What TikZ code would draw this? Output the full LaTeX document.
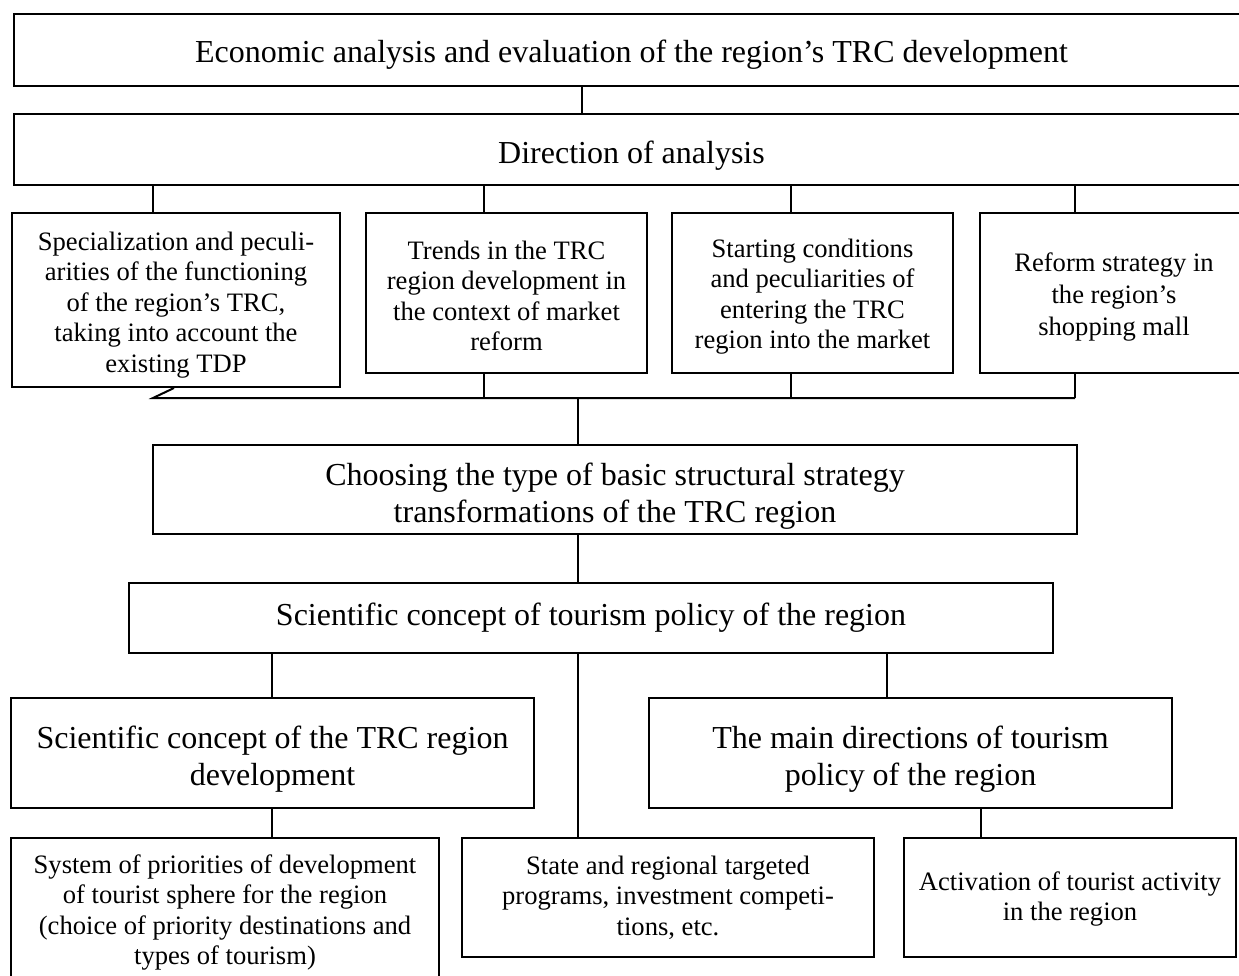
\documentclass[tikz,border=0pt]{standalone}
\usepackage{fontspec}
\setmainfont{Liberation Serif}
\newcommand\lowr[1]{\rule{0pt}{#1}}
\begin{document}
\begin{tikzpicture}[x=1pt,y=-1pt,
  box/.style={draw, line width=2pt, inner sep=0pt, align=center},
  big/.style={font=\fontsize{32}{37}\selectfont},
  small/.style={font=\fontsize{26.6}{30.5}\selectfont},
  conn/.style={line width=2pt}]
\useasboundingbox (0,0) rectangle (1239,976);

% nodes
\node[box,big,minimum width=1235pt,minimum height=72pt] (top) at (631.5,50) {\lowr{32pt}Economic analysis and evaluation of the region’s TRC development};
\node[box,big,minimum width=1235pt,minimum height=71pt] (dir) at (631.5,150) {\lowr{34pt}Direction of analysis};

\node[box,small,minimum width=328pt,minimum height=174pt] (b1) at (176,300) {\lowr{28pt}Specialization and peculi-\\arities of the functioning\\of the region’s TRC,\\taking into account the\\existing TDP};
\node[box,small,minimum width=281pt,minimum height=160pt] (b2) at (506.5,293) {\lowr{24pt}Trends in the TRC\\region development in\\the context of market\\reform};
\node[box,small,minimum width=281pt,minimum height=160pt] (b3) at (812.5,293) {\lowr{26pt}Starting conditions\\and peculiarities of\\entering the TRC\\region into the market};
\node[box,font=\fontsize{26.6}{32}\selectfont,minimum width=268pt,minimum height=160pt] (b4) at (1114,293) {\lowr{26pt}Reform strategy in\\the region’s\\shopping mall};

\node[box,big,minimum width=924pt,minimum height=89pt] (choose) at (615,489.5) {\lowr{36pt}Choosing the type of basic structural strategy\\transformations of the TRC region};
\node[box,big,minimum width=924pt,minimum height=70pt] (policy) at (591,618) {Scientific concept of tourism policy of the region};

\node[box,big,minimum width=523pt,minimum height=110pt] (ml) at (272.5,753) {\lowr{34pt}Scientific concept of the TRC region\\development};
\node[box,big,minimum width=523pt,minimum height=110pt] (mr) at (910.5,753) {\lowr{34pt}The main directions of tourism\\policy of the region};

\node[box,small,minimum width=428pt,minimum height=146pt] (bl) at (225,911) {\lowr{22pt}System of priorities of development\\of tourist sphere for the region\\(choice of priority destinations and\\types of tourism)};
\node[box,small,minimum width=412pt,minimum height=119pt] (bs) at (668,897.5) {State and regional targeted\\programs, investment competi-\\tions, etc.};
\node[box,small,minimum width=332pt,minimum height=119pt] (ba) at (1070,897.5) {\lowr{22pt}Activation of tourist activity\\in the region};

% helper coordinates (x positions of connectors)
\coordinate (xf) at (582,0);
\coordinate (xa) at (153,0);
\coordinate (xb) at (484,0);
\coordinate (xc) at (791,0);
\coordinate (xd) at (1075,0);
\coordinate (xj) at (174,0);
\coordinate (bus0) at (153,398);
\coordinate (bus1) at (1075,398);
\coordinate (busm) at (578,398);
\coordinate (xe) at (578,0);
\coordinate (xg) at (272,0);
\coordinate (xh) at (887,0);
\coordinate (xi) at (981,0);

% connectors
\draw[conn] (top.south -| xf) -- (dir.north -| xf);
\draw[conn] (dir.south -| xa) -- (b1.north -| xa);
\draw[conn] (dir.south -| xb) -- (b2.north -| xb);
\draw[conn] (dir.south -| xc) -- (b3.north -| xc);
\draw[conn] (dir.south -| xd) -- (b4.north -| xd);

\draw[conn] (b1.south -| xj) -- (bus0) -- (bus1);
\draw[conn] (b2.south -| xb) -- (bus0 -| xb);
\draw[conn] (b3.south -| xc) -- (bus0 -| xc);
\draw[conn] (b4.south -| xd) -- (bus1);
\draw[conn] (busm) -- (choose.north -| busm);

\draw[conn] (choose.south -| xe) -- (policy.north -| xe);
\draw[conn] (policy.south -| xg) -- (ml.north -| xg);
\draw[conn] (policy.south -| xe) -- (bs.north -| xe);
\draw[conn] (policy.south -| xh) -- (mr.north -| xh);
\draw[conn] (ml.south -| xg) -- (bl.north -| xg);
\draw[conn] (mr.south -| xi) -- (ba.north -| xi);
\end{tikzpicture}
\end{document}
